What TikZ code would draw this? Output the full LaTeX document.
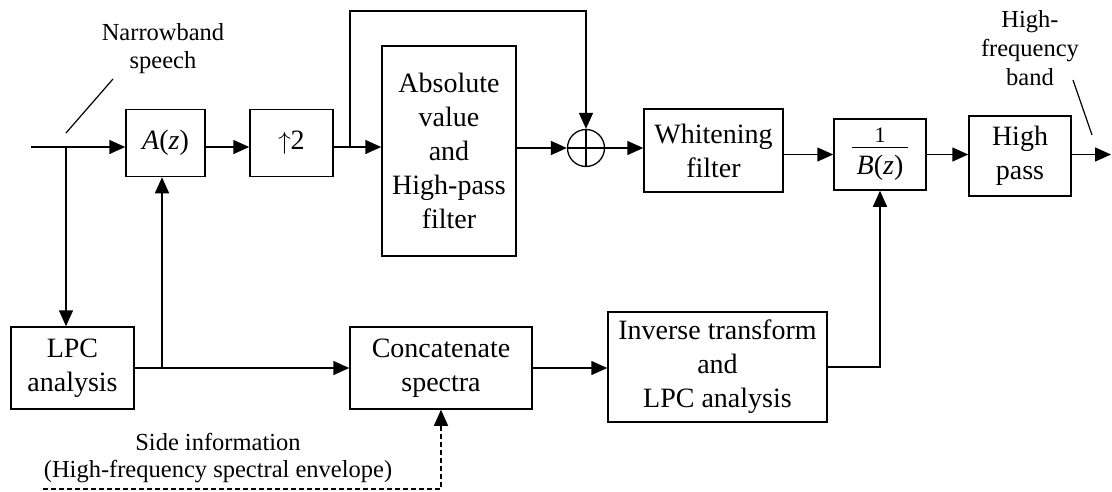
\documentclass[tikz,border=0pt]{standalone}
\usepackage{fontspec}
\setmainfont{Liberation Serif}
\usetikzlibrary{arrows.meta,calc}
\begin{document}
\begin{tikzpicture}[x=1pt,y=-1pt,
  line width=1.5pt,
  blk/.style={draw, rectangle, inner sep=0pt, align=center, font=\fontsize{28}{34}\selectfont},
  lbl/.style={inner sep=0pt, align=center, font=\fontsize{24.5}{28}\selectfont},
  arr/.style={-{Triangle[length=16pt,width=14pt]}},
  ptr/.style={line width=1.2pt},
  ]
\useasboundingbox (0,0) rectangle (1112,491);

% blocks
\node[blk, minimum width=79pt, minimum height=67pt] (Az) at (165.5,143) {\textit{A}(\textit{z})};
\node[blk, minimum width=83pt, minimum height=67pt] (up) at (291.5,143) {$\uparrow$2};
\node[blk, minimum width=134pt, minimum height=210pt] (abs) at (449,151) {Absolute\\value\\and\\High-pass\\filter};
\node[draw, circle, minimum size=37pt, inner sep=0pt, line width=1.3pt] (sum) at (586,148) {};
\draw[line width=1.3pt] (sum.north) -- (sum.south) (sum.west) -- (sum.east);
\node[blk, minimum width=139pt, minimum height=83pt] (wf) at (713.5,150.5) {Whitening\\filter};
\node[blk, minimum width=92pt, minimum height=71pt] (bz) at (880,154.5)
  {{\renewcommand{\arraystretch}{0.6}\setlength{\arrayrulewidth}{1.2pt}\setlength{\tabcolsep}{5pt}%
   \begin{tabular}{c}{\fontsize{22}{22}\selectfont 1}\\[-2pt]\hline\rule{0pt}{27pt}\textit{B}(\textit{z})\end{tabular}}};
\node[blk, minimum width=102pt, minimum height=80pt] (hp) at (1020,156) {High\\pass};
\node[blk, minimum width=123pt, minimum height=82pt] (lpc) at (72.5,368) {LPC\\analysis};
\node[blk, minimum width=182pt, minimum height=82pt] (cc) at (441,368) {Concatenate\\spectra};
\node[blk, minimum width=219pt, minimum height=110pt] (inv) at (717.5,367) {Inverse transform\\and\\LPC analysis};

% labels
\node[lbl] (nb) at (163,49) {Narrowband\\speech};
\node[lbl, font=\fontsize{24.5}{29}\selectfont] (hf) at (1030,48.5) {High-\\frequency\\band};
\node[lbl, font=\fontsize{24.5}{27}\selectfont] (side) at (218,458) {Side information\\(High-frequency spectral envelope)};

% coordinates
\coordinate (in) at (31,147);
\coordinate (j1) at (66,147);
\coordinate (j2) at (350,147);
\coordinate (fb) at (350,11);
\coordinate (j3) at (162,368);
\coordinate (out) at (1111,154.5);
\coordinate (sd) at (43,489);
\coordinate (nb1) at (66,133);
\coordinate (nb2) at (113,79);
\coordinate (hf1) at (1073,80);
\coordinate (hf2) at (1092,135);

% connectors
\draw[arr] (in) -- (Az.west |- in);
\draw[arr] (Az.east |- in) -- (up.west |- in);
\draw[arr] (up.east |- in) -- (abs.west |- in);
\draw[arr] (j2) -- (fb) -| (sum.north);
\draw[arr] (abs.east |- sum) -- (sum.west);
\draw[arr] (sum.east) -- (wf.west |- sum);
\draw[arr] (wf.east |- bz) -- (bz.west);
\draw[arr] (bz.east) -- (hp.west |- bz);
\draw[arr] (hp.east |- bz) -- (out);
\draw[arr] (j1) -- (j1 |- lpc.north);
\draw[arr] (lpc.east) -- (cc.west);
\draw[arr] (j3) -- (j3 |- Az.south);
\draw[arr] (cc.east) -- (inv.west |- cc.east);
\draw[arr] (inv.east) -| (bz.south);
\draw[arr, line width=1.2pt, dash pattern=on 5pt off 3pt] (sd) -| (cc.south);
\draw[ptr] (nb1) -- (nb2);
\draw[ptr] (hf1) -- (hf2);
\end{tikzpicture}
\end{document}
